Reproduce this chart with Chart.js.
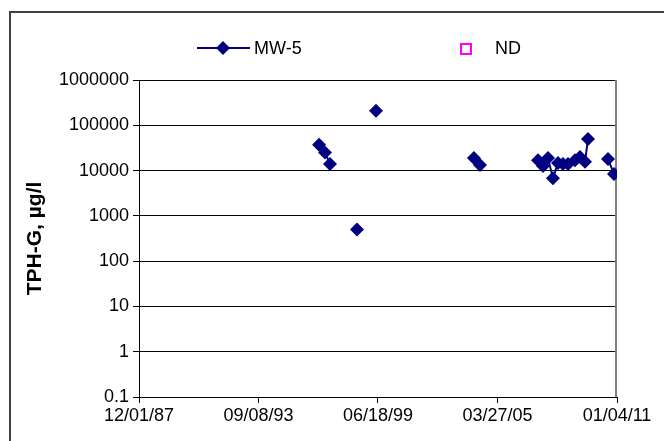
<!DOCTYPE html>
<html>
<head>
<meta charset="utf-8">
<script src="https://cdn.jsdelivr.net/npm/chart.js@4/dist/chart.umd.min.js"></script>
<style>
  html, body { margin: 0; padding: 0; background: #fff; }
  #wrap { width: 664px; height: 441px; position: relative; }
</style>
</head>
<body>
<div id="wrap"><canvas id="chart" width="664" height="441"></canvas></div>
<script>
// MW-5 sample dates and TPH-G results (null = gap in the line)
const sampleDates = [
  '1996-08-12', '1996-11-25', '1997-02-21', '1997-10-01',
  '1998-06-13', '1999-01-01',
  '1999-05-14', '2001-06-01',
  '2004-02-06', '2004-05-22', '2006-01-01',
  '2007-03-12', '2007-06-08', '2007-09-04', '2007-12-01', '2008-02-28',
  '2008-05-26', '2008-08-22', '2008-12-24', '2009-03-22', '2009-06-18',
  '2009-08-10', '2010-01-01',
  '2010-07-29', '2010-11-12'
];
const mw5Values = [
  37000, 25000, 14000, null,
  500, null,
  210000, null,
  19000, 13300, null,
  17000, 12600, 19000, 6800, 14700,
  14000, 14000, 17000, 20000, 15600,
  50000, null,
  18000, 8400
];
// non-detects (none plotted in range)
const ndDates = [];
const ndValues = [];

const yTicks = [0.1, 1, 10, 100, 1000, 10000, 100000, 1000000];
const xTickLabels = ['12/01/87', '09/08/93', '06/18/99', '03/27/05', '01/04/11'];

const NAVY = '#000080';
const FONT = 'Liberation Sans, Arial, sans-serif';

function parseMDY(s) {
  const [m, d, y] = s.split('/').map(Number);
  return Date.UTC(y < 50 ? 2000 + y : 1900 + y, m - 1, d);
}
function fmtMDY(v) {
  const dt = new Date(v);
  const p = n => String(n).padStart(2, '0');
  return p(dt.getUTCMonth() + 1) + '/' + p(dt.getUTCDate()) + '/' + p(dt.getUTCFullYear() % 100);
}

const xTickValues = xTickLabels.map(parseMDY);
const mw5Points = sampleDates.map((d, i) => ({ x: Date.parse(d), y: mw5Values[i] }));
const ndPoints = ndDates.map((d, i) => ({ x: Date.parse(d), y: ndValues[i] }));

// outer frame, plot border and the legend are drawn by hand
const decorations = {
  id: 'decorations',
  beforeDatasetsDraw(chart) {
    const { ctx, chartArea } = chart;
    ctx.save();
    ctx.strokeStyle = '#808080';
    ctx.lineWidth = 2;
    ctx.beginPath();
    ctx.moveTo(chartArea.right - 1, chartArea.top);
    ctx.lineTo(chartArea.right - 1, chartArea.bottom);
    ctx.stroke();
    ctx.restore();
  },
  afterDraw(chart) {
    const ctx = chart.ctx;
    ctx.save();
    // frame
    ctx.strokeStyle = '#404040';
    ctx.lineWidth = 2;
    ctx.beginPath();
    ctx.moveTo(10, 441);
    ctx.lineTo(10, 12);
    ctx.lineTo(664, 12);
    ctx.stroke();

    // legend: MW-5
    const ly = 48;
    ctx.strokeStyle = NAVY;
    ctx.lineWidth = 2;
    ctx.beginPath();
    ctx.moveTo(197, ly);
    ctx.lineTo(250, ly);
    ctx.stroke();
    ctx.fillStyle = NAVY;
    ctx.beginPath();
    ctx.moveTo(223, ly - 7);
    ctx.lineTo(230, ly);
    ctx.lineTo(223, ly + 7);
    ctx.lineTo(216, ly);
    ctx.closePath();
    ctx.fill();
    ctx.fillStyle = '#000';
    ctx.font = '18px ' + FONT;
    ctx.textBaseline = 'middle';
    ctx.textAlign = 'left';
    ctx.fillText(chart.data.datasets[0].label, 254, ly + 1);

    // legend: ND
    ctx.strokeStyle = '#ff00ff';
    ctx.lineWidth = 2;
    ctx.strokeRect(461, ly - 4, 10, 10);
    ctx.fillText(chart.data.datasets[1].label, 495, ly + 1);
    ctx.restore();
  }
};

new Chart(document.getElementById('chart'), {
  type: 'line',
  data: {
    datasets: [
      {
        label: 'MW-5',
        data: mw5Points,
        borderColor: NAVY,
        backgroundColor: NAVY,
        borderWidth: 2,
        pointStyle: 'rectRot',
        pointRadius: 7,
        pointBackgroundColor: NAVY,
        pointBorderColor: NAVY,
        pointBorderWidth: 0,
        spanGaps: false,
        tension: 0
      },
      {
        label: 'ND',
        data: ndPoints,
        showLine: false,
        pointStyle: 'rect',
        pointRadius: 6,
        borderColor: '#ff00ff',
        backgroundColor: '#fff',
        borderWidth: 2
      }
    ]
  },
  options: {
    responsive: false,
    animation: false,
    layout: { padding: { left: 0, top: 80, right: 47, bottom: 0 } },
    plugins: {
      legend: { display: false },
      tooltip: { enabled: false }
    },
    scales: {
      x: {
        type: 'linear',
        min: xTickValues[0],
        max: xTickValues[xTickValues.length - 1],
        afterBuildTicks: s => { s.ticks = xTickValues.map(v => ({ value: v })); },
        afterFit: s => { s.height = 44; },
        grid: { drawOnChartArea: false, color: '#000', tickLength: 6, tickWidth: 1 },
        border: { color: '#000', width: 1 },
        ticks: {
          color: '#000',
          font: { family: FONT, size: 18 },
          maxRotation: 0,
          autoSkip: false,
          padding: 2,
          callback: v => fmtMDY(v)
        }
      },
      y: {
        type: 'logarithmic',
        min: yTicks[0],
        max: yTicks[yTicks.length - 1],
        afterBuildTicks: s => { s.ticks = yTicks.map(v => ({ value: v })); },
        afterFit: s => { s.width = 139; },
        grid: { color: '#000', tickLength: 6, lineWidth: 1 },
        border: { color: '#000', width: 1 },
        ticks: {
          color: '#000',
          font: { family: FONT, size: 18 },
          padding: 4,
          callback: v => String(v)
        },
        title: {
          display: true,
          text: 'TPH-G, µg/l',
          color: '#000',
          font: { family: FONT, size: 21, weight: 'bold' },
          padding: { top: 23, bottom: 0 }
        }
      }
    }
  },
  plugins: [decorations]
});
</script>
</body>
</html>
